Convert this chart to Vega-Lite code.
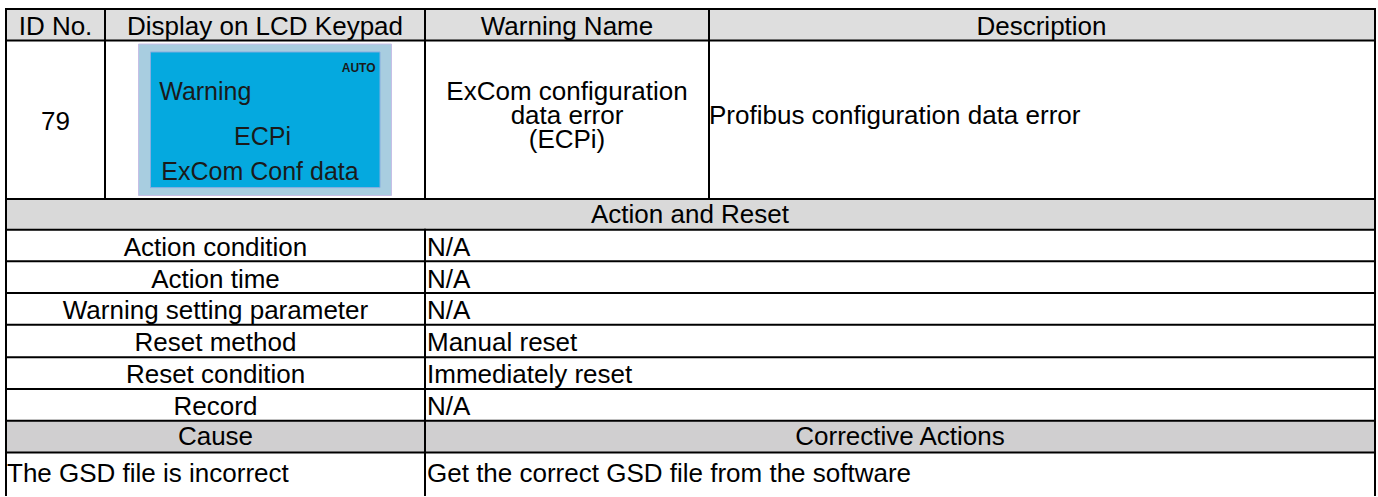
{
  "$schema": "https://vega.github.io/schema/vega-lite/v6.json",
  "width": 1378,
  "height": 497,
  "autosize": {"type": "fit", "contains": "padding"},
  "padding": 0,
  "background": "#ffffff",
  "config": {
    "view": {"stroke": null},
    "text": {"font": "Liberation Sans", "fontSize": 26, "fill": "#000000", "baseline": "alphabetic"}
  },
  "datasets": {
    "cells": [
      {"kind": "header", "x0": 6, "x1": 1375, "y0": 9, "y1": 41},
      {"kind": "section", "x0": 6, "x1": 1375, "y0": 201, "y1": 232},
      {"kind": "cause", "x0": 6, "x1": 1375, "y0": 425, "y1": 457},
      {"kind": "lcd_outer", "x0": 138.5, "x1": 391.5, "y0": 44.5, "y1": 197.5},
      {"kind": "lcd_inner", "x0": 150.5, "x1": 380, "y0": 52.5, "y1": 189.5}
    ],
    "lines": [
      {"x0": 6, "x1": 1375, "y0": 9, "y1": 9},
      {"x0": 6, "x1": 1375, "y0": 41, "y1": 41},
      {"x0": 6, "x1": 1375, "y0": 201, "y1": 201},
      {"x0": 6, "x1": 1375, "y0": 232, "y1": 232},
      {"x0": 6, "x1": 1375, "y0": 264, "y1": 264},
      {"x0": 6, "x1": 1375, "y0": 296, "y1": 296},
      {"x0": 6, "x1": 1375, "y0": 328, "y1": 328},
      {"x0": 6, "x1": 1375, "y0": 361, "y1": 361},
      {"x0": 6, "x1": 1375, "y0": 393, "y1": 393},
      {"x0": 6, "x1": 1375, "y0": 425, "y1": 425},
      {"x0": 6, "x1": 1375, "y0": 457, "y1": 457},
      {"x0": 6, "x1": 6, "y0": 9, "y1": 500},
      {"x0": 1375, "x1": 1375, "y0": 9, "y1": 500},
      {"x0": 105, "x1": 105, "y0": 9, "y1": 201},
      {"x0": 425, "x1": 425, "y0": 9, "y1": 201},
      {"x0": 425, "x1": 425, "y0": 232, "y1": 500},
      {"x0": 709, "x1": 709, "y0": 9, "y1": 201}
    ],
    "labels": [
      {"group": "center", "text": "ID No.", "x0": 55.5, "y0": 35},
      {"group": "center", "text": "Display on LCD Keypad", "x0": 265, "y0": 35},
      {"group": "center", "text": "Warning Name", "x0": 567, "y0": 35},
      {"group": "center", "text": "Description", "x0": 1041.5, "y0": 35},
      {"group": "center", "text": "79", "x0": 55.5, "y0": 131.5},
      {"group": "multi", "text": ["ExCom configuration", "data error", "(ECPi)"], "x0": 567, "y0": 100.7},
      {"group": "left", "text": "Profibus configuration data error", "x0": 709, "y0": 125},
      {"group": "center", "text": "Action and Reset", "x0": 690, "y0": 225.7},
      {"group": "center", "text": "Action condition", "x0": 215.5, "y0": 259},
      {"group": "center", "text": "Action time", "x0": 215.5, "y0": 290.7},
      {"group": "center", "text": "Warning setting parameter", "x0": 215.5, "y0": 322.7},
      {"group": "center", "text": "Reset method", "x0": 215.5, "y0": 355},
      {"group": "center", "text": "Reset condition", "x0": 215.5, "y0": 386.7},
      {"group": "center", "text": "Record", "x0": 215.5, "y0": 419.3},
      {"group": "left", "text": "N/A", "x0": 427, "y0": 259},
      {"group": "left", "text": "N/A", "x0": 427, "y0": 290.7},
      {"group": "left", "text": "N/A", "x0": 427, "y0": 322.7},
      {"group": "left", "text": "Manual reset", "x0": 427, "y0": 355},
      {"group": "left", "text": "Immediately reset", "x0": 427, "y0": 386.7},
      {"group": "left", "text": "N/A", "x0": 427, "y0": 419.3},
      {"group": "center", "text": "Cause", "x0": 215.5, "y0": 450},
      {"group": "center", "text": "Corrective Actions", "x0": 900, "y0": 450},
      {"group": "left", "text": "The GSD file is incorrect", "x0": 7, "y0": 486.7},
      {"group": "left", "text": "Get the correct GSD file from the software", "x0": 427, "y0": 486.7},
      {"group": "lcd", "text": "Warning", "x0": 205.3, "y0": 101},
      {"group": "lcd", "text": "ECPi", "x0": 262.5, "y0": 146},
      {"group": "lcd", "text": "ExCom Conf data", "x0": 260, "y0": 181.5},
      {"group": "lcdsmall", "text": "AUTO", "x0": 375.5, "y0": 72.7}
    ]
  },
  "encoding": {
    "x": {"field": "x0", "type": "quantitative", "scale": {"domain": [0, 1378], "nice": false, "zero": false}, "axis": null},
    "y": {"field": "y0", "type": "quantitative", "scale": {"domain": [0, 497], "nice": false, "zero": false, "reverse": true}, "axis": null}
  },
  "layer": [
    {
      "data": {"name": "cells"},
      "mark": {"type": "rect", "strokeWidth": 1},
      "encoding": {
        "x2": {"field": "x1"},
        "y2": {"field": "y1"},
        "fill": {
          "field": "kind", "type": "nominal", "legend": null,
          "scale": {"domain": ["header", "section", "cause", "lcd_outer", "lcd_inner"], "range": ["#dedede", "#d9d9d9", "#d0cfd0", "#a8cde0", "#05a9df"]}
        },
        "stroke": {
          "field": "kind", "type": "nominal", "legend": null,
          "scale": {"domain": ["header", "section", "cause", "lcd_outer", "lcd_inner"], "range": ["#dedede", "#d9d9d9", "#d0cfd0", "#c6bfe6", "#86aee0"]}
        }
      }
    },
    {
      "data": {"name": "lines"},
      "mark": {"type": "rule", "color": "#000000", "strokeWidth": 2, "strokeCap": "square"},
      "encoding": {
        "x2": {"field": "x1"},
        "y2": {"field": "y1"}
      }
    },
    {
      "data": {"name": "labels"},
      "transform": [{"filter": "datum.group === 'center'"}],
      "mark": {"type": "text", "align": "center"},
      "encoding": {"text": {"field": "text"}}
    },
    {
      "data": {"name": "labels"},
      "transform": [{"filter": "datum.group === 'multi'"}],
      "mark": {"type": "text", "align": "center", "lineHeight": 24.3},
      "encoding": {"text": {"field": "text"}}
    },
    {
      "data": {"name": "labels"},
      "transform": [{"filter": "datum.group === 'left'"}],
      "mark": {"type": "text", "align": "left"},
      "encoding": {"text": {"field": "text"}}
    },
    {
      "data": {"name": "labels"},
      "transform": [{"filter": "datum.group === 'lcd'"}],
      "mark": {"type": "text", "align": "center", "fontSize": 25, "fill": "#1a1a1a"},
      "encoding": {"text": {"field": "text"}}
    },
    {
      "data": {"name": "labels"},
      "transform": [{"filter": "datum.group === 'lcdsmall'"}],
      "mark": {"type": "text", "align": "right", "fontSize": 12, "fontWeight": "bold", "fill": "#1a1a1a"},
      "encoding": {"text": {"field": "text"}}
    }
  ]
}
